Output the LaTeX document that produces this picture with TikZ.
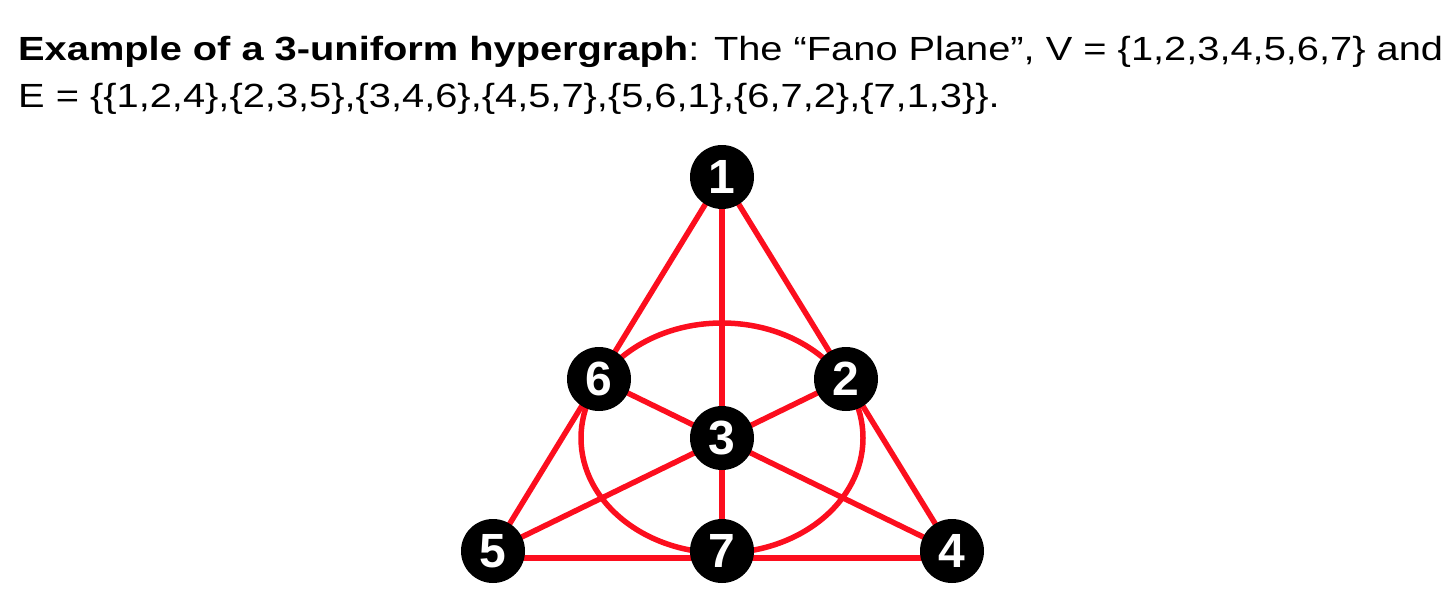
\documentclass[tikz,border=0pt]{standalone}
\usepackage{graphicx}
\usepackage{fontspec}
\setmainfont{Liberation Sans}
\definecolor{fanored}{RGB}{252,14,30}
\tikzset{
  vtx/.style={circle, fill=black, draw=none, minimum size=64pt, inner sep=0pt,
    text=white, font=\fontsize{48}{48}\selectfont\bfseries},
  hedge/.style={draw=fanored, line width=5.5pt},
  caption/.style={anchor=base west, inner sep=0pt, font=\fontsize{33.5}{40}\selectfont}
}
\begin{document}
\begin{tikzpicture}[x=1pt,y=-1pt]
\useasboundingbox (0,0) rectangle (1454,598);
\node[caption] (l1) at (18,60) {\scalebox{1.188}[1]{\textbf{Example of a 3-uniform hypergraph}: The “Fano Plane”, V = \{1,2,3,4,5,6,7\} and}};
\node[caption] (l2) at (18,107) {\scalebox{1.188}[1]{E = \{\{1,2,4\},\{2,3,5\},\{3,4,6\},\{4,5,7\},\{5,6,1\},\{6,7,2\},\{7,1,3\}\}.}};
\coordinate (c1) at (722,177);
\coordinate (c6) at (599,379);
\coordinate (c2) at (846,379);
\coordinate (c3) at (722,438);
\coordinate (c5) at (493,551);
\coordinate (c7) at (722,551);
\coordinate (c4) at (952,551);
\draw[hedge] (c1) -- (c5);
\draw[hedge] (c1) -- (c7);
\draw[hedge] (c1) -- (c4);
\draw[hedge] (c5) -- (c2);
\draw[hedge] (c4) -- (c6);
\draw[hedge] ([yshift=-7pt]c5) -- ([yshift=-7pt]c4);
\draw[hedge] (c3) ellipse [x radius=141, y radius=115];
\node[vtx] (n1) at (c1) {1};
\node[vtx] (n6) at (c6) {6};
\node[vtx] (n2) at (c2) {2};
\node[vtx] (n3) at (c3) {3};
\node[vtx] (n5) at (c5) {5};
\node[vtx] (n7) at (c7) {7};
\node[vtx] (n4) at (c4) {4};
\end{tikzpicture}
\end{document}
